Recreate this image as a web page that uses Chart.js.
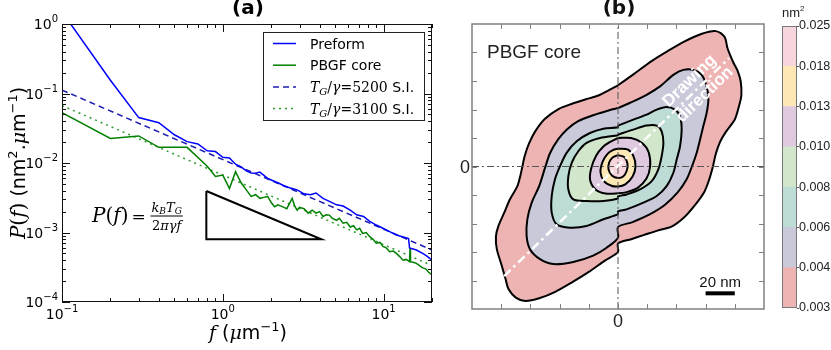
<!DOCTYPE html>
<html>
<head>
<meta charset="utf-8">
<script src="https://cdn.jsdelivr.net/npm/chart.js@4.4.0/dist/chart.umd.min.js"></script>
<style>
  body { margin: 0; background: #fff; width: 831px; height: 350px; position: relative; overflow: hidden; }
  canvas { position: absolute; top: 0; }
  #psd { left: 0; }
  #map { left: 440px; }
  #cbar { left: 775px; }
</style>
</head>
<body>
<canvas id="psd" width="440" height="350"></canvas>
<canvas id="map" width="335" height="350"></canvas>
<canvas id="cbar" width="56" height="350"></canvas>
<script>
// ---- (a) power spectral density ----
const preformFreq = [0.1, 0.2, 0.3, 0.4, 0.5, 0.6, 0.7, 0.8, 0.9, 1.0, 1.1, 1.2, 1.3, 1.4, 1.5, 1.6, 1.7, 1.9, 2.0,
  2.2, 2.4, 2.6, 2.9, 3.2, 3.5, 3.8, 4.2, 4.6, 5.1, 5.6, 6.2, 6.8, 7.5, 8.2, 9.0, 9.9, 10.9, 12.0, 13.1, 14.3,
  14.5, 16.0, 17.5, 18.5, 20.0];
const preformPsd = [1.5, 0.155, 0.045, 0.038, 0.0255, 0.0203, 0.0188, 0.015, 0.0146, 0.0121, 0.0118, 0.0096, 0.0088,
  0.0077, 0.0072, 0.0071, 0.0074, 0.0060, 0.0057, 0.0052, 0.0047, 0.0044, 0.0041, 0.0036, 0.0035, 0.0037, 0.0031,
  0.0028, 0.0025, 0.0024, 0.0021, 0.0018, 0.0017, 0.00145, 0.00128, 0.00115, 0.00103, 0.00092, 0.00087, 0.00082,
  0.00060, 0.00056, 0.00050, 0.00046, 0.00040];
const coreFreq = [0.1, 0.2, 0.3, 0.4, 0.6, 0.8, 0.9, 1.0, 1.1, 1.2, 1.3, 1.4, 1.5, 1.6, 1.7, 1.8, 1.9, 2.0, 2.1, 2.2,
  2.3, 2.4, 2.5, 2.7, 2.8, 2.9, 3.0, 3.2, 3.4, 3.6, 3.8, 4.0, 4.2, 4.4, 4.6, 4.8, 5.1, 5.3, 5.6, 5.9, 6.2, 6.5, 6.8,
  7.1, 7.4, 7.8, 8.2, 8.6, 9.0, 9.5, 9.9, 10.4, 10.9, 11.5, 12.0, 12.6, 13.2, 13.8, 14.5, 14.6, 14.7, 15.4, 16.0,
  16.8, 17.5, 18.3, 19.0, 20.0];
const corePsd = [0.053, 0.0225, 0.0245, 0.0168, 0.0168, 0.0090, 0.0064, 0.0067, 0.0043, 0.0075, 0.0052, 0.0041,
  0.0033, 0.0035, 0.0031, 0.0032, 0.0033, 0.0027, 0.00235, 0.0025, 0.0024, 0.0023, 0.0022, 0.0031, 0.0024, 0.0021,
  0.0023, 0.0022, 0.0019, 0.0021, 0.0019, 0.0020, 0.0017, 0.0018, 0.00178, 0.0016, 0.0015, 0.0016, 0.00136, 0.0014,
  0.0012, 0.00125, 0.00109, 0.00115, 0.00097, 0.00100, 0.00087, 0.00080, 0.00070, 0.00072, 0.00063, 0.00060,
  0.00053, 0.00054, 0.00050, 0.00045, 0.00040, 0.00041, 0.00038, 0.00060, 0.00038, 0.00037, 0.00036, 0.00033,
  0.00031, 0.00030, 0.00027, 0.000245];
const fitFreq = [0.1, 20];
const fitPreformPsd = [0.112, 0.00056];
const fitCorePsd = [0.067, 0.000335];
const fitRatios = ['5200', '3100'];
const triangleFreq = [0.79, 0.79, 4.1, 0.79];
const trianglePsd = [0.00395, 0.0008, 0.0008, 0.00395];

// ---- (b) contour map, nm, outermost level first ----
const contour003 = [[0,57],[11,65],[23,74],[34,81],[46,88],[57,93],[67,95],[73,91],[75,83],[79,73],[82,67],[84,60],
  [84.5,50],[82.5,41],[80,33],[74,24.5],[70,17.5],[67,9],[65,0],[62.5,-9],[59,-18],[52,-28],[45,-36],[37,-42],
  [27,-45],[18,-48],[9,-51],[0,-54],[0,-60],[-9,-66],[-20,-74],[-31,-81],[-43,-88],[-54,-92.5],[-63.5,-94.4],
  [-70,-92],[-75,-86],[-77,-79],[-79.5,-70],[-83,-58],[-83.6,-49],[-82,-42],[-78,-32.6],[-74,-23],[-69,-14],
  [-67,-7],[-65.5,0],[-64,7],[-61,16],[-56.5,25],[-50,33.5],[-40.5,40.5],[-31.5,44],[-22.5,47],[-13,50],
  [-6.5,53.5],[0,57]];
const contour004 = [[0,41],[10.5,45.7],[19.6,50.3],[28.8,56.2],[37.9,64.3],[44.7,67.8],[51.6,67.8],[57.3,64.3],
  [60.7,56.2],[61.9,46.9],[60.7,37.5],[58.4,28.2],[56.2,18.9],[53.9,9.6],[51,1],[47,-9],[41,-18],[32,-27],
  [21,-34],[10,-39],[0,-42.5],[0,-50],[-7.8,-57],[-17,-62.5],[-30.6,-67],[-44.3,-68.5],[-53.4,-65],[-60.3,-58],
  [-62.6,-48.7],[-62.1,-37.1],[-59.1,-25.4],[-54,-13.8],[-50,-1],[-46.5,9.5],[-41,19],[-35,26],[-27,32],
  [-17,36],[-6,39.5],[0,41]];
const contour006 = [[0,28.7],[10.5,32.9],[19.6,36.4],[26.5,39.9],[33.3,41.7],[39,39.9],[42.5,35.2],[43.6,25.9],
  [42.5,14.2],[40.2,4.9],[37.9,-4.4],[33.3,-13.8],[26.5,-20.7],[17.4,-25.4],[5.9,-30.1],[0,-31.5],[0,-33.5],
  [-10,-37],[-21.5,-41.7],[-32.9,-42.9],[-42,-40.6],[-45.4,-32.4],[-45.4,-20.7],[-43.2,-9.1],[-39.7,0.2],
  [-35.2,9.6],[-28.3,17.7],[-19.2,23.5],[-10,26.5],[0,27.5],[0,28.7]];
const contour008 = [[0,22.4],[10.5,25.9],[19.6,28.7],[26.5,28.7],[29.9,24.7],[31.1,16.6],[29.9,7.2],[27.6,-2.1],
  [23.1,-10.3],[15.1,-16.1],[5.9,-19.6],[0,-21],[0,-22.5],[-10,-24.2],[-21.5,-24.2],[-30.6,-23.1],[-34,-16.1],
  [-34,-6.8],[-31.7,2.6],[-27.2,10.7],[-21.5,16.6],[-12.3,20],[0,22],[0,22.4]];
const contour010 = [[0,20],[9,20],[16.5,16.5],[21,10],[22,0],[19.5,-8.5],[13.5,-15],[6,-18],[0,-18.8],
  [-8.5,-19],[-15,-16.5],[-19,-10],[-18.5,-2],[-15,7.5],[-10,14],[-5,17.5],[0,20]];
const contour013 = [[0,12.5],[6.5,12],[10.5,7.5],[12,0],[10,-7],[5,-12.5],[0,-14],[-4.5,-13.5],[-9.5,-10.5],
  [-12,-4],[-10.5,3.5],[-7,9],[-3.5,11.5],[0,12.5]];
const contour018 = [[0,8],[4.5,6.5],[6.5,2],[6,-3],[3.5,-7],[0,-8],[-4,-6.5],[-6.5,-2],[-6,3],[-3.5,6.5],[0,8]];
const zeroLineH = [[-100,0],[100,0]];
const zeroLineV = [[0,-100],[0,100]];
const drawingAxis = [[-78,-77],[76,76]];
const scaleBar = [[60,-89],[80,-89]];

// ---- colorbar ----
const colorbarLevels = ['0.003', '0.004', '0.006', '0.008', '0.010', '0.013', '0.018', '0.025'];
const bandColors = ['#eeb4b4', '#c9c9da', '#bedcd6', '#d1e6cb', '#dfc9df', '#fde8b5', '#f6d6dc'];
const bandSpan = [1, 1, 1, 1, 1, 1, 1];

const SANS = '"DejaVu Sans"';
const SERIF = '"DejaVu Serif"';
const HELV = '"Liberation Sans"';

const zip = (xs, ys) => xs.map((x, i) => ({ x, y: ys[i] }));
const pairs = pts => pts.map(([x, y]) => ({ x, y }));

function drawRuns(ctx, runs, x, y, align) {
  let w = 0;
  for (const r of runs) { ctx.font = r.font; w += ctx.measureText(r.t).width; }
  let cx = align === 'center' ? x - w / 2 : (align === 'right' ? x - w : x);
  ctx.textAlign = 'left';
  ctx.textBaseline = 'alphabetic';
  for (const r of runs) {
    ctx.font = r.font;
    ctx.fillText(r.t, cx, y + (r.dy || 0));
    cx += ctx.measureText(r.t).width;
  }
  return w;
}

function powerLabel(e) {
  return [{ t: '10', font: `14px ${SANS}` }, { t: e < 0 ? '\u2212' + (-e) : String(e), font: `10px ${SANS}`, dy: -7 }];
}

function fitRuns(ratio) {
  return [
    { t: 'T', font: `italic 14px ${SERIF}` },
    { t: 'G', font: `italic 10px ${SERIF}`, dy: 3 },
    { t: '/', font: `14px ${SERIF}` },
    { t: 'γ', font: `italic 14px ${SERIF}` },
    { t: '=', font: `14px ${SERIF}` },
    { t: ratio, font: `14px ${SERIF}` },
    { t: ' S.I.', font: `14px ${SANS}` },
  ];
}

function logMarks(scale) {
  const out = [];
  for (let e = Math.floor(Math.log10(scale.min)); e <= Math.ceil(Math.log10(scale.max)); e++) {
    for (let m = 1; m < 10; m++) {
      const v = m * Math.pow(10, e);
      if (v >= scale.min * 0.999 && v <= scale.max * 1.001) out.push({ v, e, major: m === 1 });
    }
  }
  return out;
}

const psdDecor = {
  id: 'psdDecor',
  afterDraw(chart) {
    const { ctx, chartArea: a, scales: { x, y } } = chart;
    ctx.save();
    ctx.strokeStyle = '#111';
    ctx.lineWidth = 1;
    ctx.strokeRect(a.left + 0.5, a.top + 0.5, a.right - a.left - 1, a.bottom - a.top - 1);

    ctx.beginPath();
    for (const m of logMarks(x)) {
      const p = Math.round(x.getPixelForValue(m.v)) + 0.5, len = m.major ? 8 : 4;
      ctx.moveTo(p, a.bottom); ctx.lineTo(p, a.bottom - len);
      ctx.moveTo(p, a.top); ctx.lineTo(p, a.top + len);
    }
    for (const m of logMarks(y)) {
      const p = Math.round(y.getPixelForValue(m.v)) + 0.5, len = m.major ? 8 : 4;
      ctx.moveTo(a.left, p); ctx.lineTo(a.left + len, p);
      ctx.moveTo(a.right, p); ctx.lineTo(a.right - len, p);
    }
    ctx.stroke();

    ctx.fillStyle = '#000';
    for (const m of logMarks(x)) if (m.major) drawRuns(ctx, powerLabel(m.e), x.getPixelForValue(m.v), a.bottom + 17, 'center');
    for (const m of logMarks(y)) if (m.major) drawRuns(ctx, powerLabel(m.e), a.left - 4, y.getPixelForValue(m.v) + 5, 'right');

    // legend
    const bx = a.right - 169, by = a.top + 8, bw = 161, bh = 88;
    ctx.fillStyle = '#fff';
    ctx.fillRect(bx, by, bw, bh);
    ctx.strokeStyle = '#222';
    ctx.strokeRect(bx + 0.5, by + 0.5, bw, bh);
    chart.data.datasets.slice(0, 4).forEach((ds, i) => {
      const ry = by + 11.5 + i * 21.7;
      ctx.save();
      ctx.strokeStyle = ds.borderColor;
      ctx.lineWidth = ds.borderWidth;
      ctx.setLineDash(ds.borderDash || []);
      ctx.beginPath(); ctx.moveTo(bx + 10, ry); ctx.lineTo(bx + 33, ry); ctx.stroke();
      ctx.restore();
      ctx.fillStyle = '#000';
      const runs = i < 2 ? [{ t: ds.label, font: `14px ${SANS}` }] : fitRuns(fitRatios[i - 2]);
      drawRuns(ctx, runs, bx + 47, ry + 5, 'left');
    });

    // formula next to the slope triangle
    ctx.fillStyle = '#000';
    const fx = a.left + 30, fy = a.top + 198;
    let w = drawRuns(ctx, [
      { t: 'P', font: `italic 20px ${SERIF}` }, { t: '(', font: `20px ${SERIF}` },
      { t: 'f', font: `italic 20px ${SERIF}` }, { t: ')', font: `20px ${SERIF}` },
    ], fx, fy, 'left');
    drawRuns(ctx, [{ t: '=', font: `17px ${SERIF}` }], fx + w + 3, fy, 'left');
    const fracX = fx + w + 23;
    const nw = drawRuns(ctx, [
      { t: 'k', font: `italic 13px ${SERIF}` }, { t: 'B', font: `italic 9px ${SERIF}`, dy: 2 },
      { t: 'T', font: `italic 13px ${SERIF}` }, { t: 'G', font: `italic 9px ${SERIF}`, dy: 2 },
    ], fracX, fy - 10, 'left');
    drawRuns(ctx, [{ t: '2', font: `13px ${SERIF}` }, { t: 'πγf', font: `italic 13px ${SERIF}` }], fracX + nw / 2, fy + 8, 'center');
    ctx.fillRect(fracX - 1, fy - 6.5, nw + 2, 1);

    // titles
    drawRuns(ctx, [{ t: '(a)', font: `bold 20px ${SANS}` }], (a.left + a.right) / 2 + 1, 14, 'center');
    drawRuns(ctx, [
      { t: 'f', font: `italic 19px ${SERIF}` }, { t: ' (', font: `19px ${SANS}` },
      { t: 'μ', font: `italic 19px ${SERIF}` }, { t: 'm', font: `19px ${SANS}` },
      { t: '\u22121', font: `13px ${SANS}`, dy: -8 }, { t: ')', font: `19px ${SANS}` },
    ], (a.left + a.right) / 2 + 1, 339, 'center');
    ctx.save();
    ctx.translate(25, (a.top + a.bottom) / 2);
    ctx.rotate(-Math.PI / 2);
    drawRuns(ctx, [
      { t: 'P', font: `italic 20px ${SERIF}` }, { t: '(', font: `20px ${SERIF}` },
      { t: 'f', font: `italic 20px ${SERIF}` }, { t: ')', font: `20px ${SERIF}` },
      { t: ' (nm', font: `19px ${SANS}` }, { t: '2', font: `13px ${SANS}`, dy: -8 },
      { t: '.', font: `19px ${SANS}` }, { t: 'μ', font: `italic 19px ${SERIF}` }, { t: 'm', font: `19px ${SANS}` },
      { t: '\u22121', font: `13px ${SANS}`, dy: -8 }, { t: ')', font: `19px ${SANS}` },
    ], 0, 0, 'center');
    ctx.restore();
    ctx.restore();
  }
};

new Chart(document.getElementById('psd'), {
  type: 'line',
  data: {
    datasets: [
      { label: 'Preform', data: zip(preformFreq, preformPsd), borderColor: '#0000ff', borderWidth: 1.5 },
      { label: 'PBGF core', data: zip(coreFreq, corePsd), borderColor: '#008000', borderWidth: 1.5 },
      { label: 'fit 5200', data: zip(fitFreq, fitPreformPsd), borderColor: '#1c1cb0', borderWidth: 1.5, borderDash: [6, 4] },
      { label: 'fit 3100', data: zip(fitFreq, fitCorePsd), borderColor: '#2f9a2f', borderWidth: 1.5, borderDash: [2, 4] },
      { label: 'slope', data: zip(triangleFreq, trianglePsd), borderColor: '#000', borderWidth: 2 },
    ]
  },
  options: {
    responsive: false, animation: false, devicePixelRatio: 1,
    layout: { padding: { left: 0, right: 8, top: 24, bottom: 0 } },
    plugins: { legend: { display: false }, tooltip: { enabled: false } },
    elements: { point: { radius: 0 }, line: { tension: 0, fill: false } },
    scales: {
      x: { type: 'logarithmic', min: 0.1, max: 20, grid: { display: false }, border: { display: false },
           ticks: { display: false }, afterFit: s => { s.height = 48; } },
      y: { type: 'logarithmic', min: 1e-4, max: 1, grid: { display: false }, border: { display: false },
           ticks: { display: false }, afterFit: s => { s.width = 62; } },
    }
  },
  plugins: [psdDecor]
});

const mapDecor = {
  id: 'mapDecor',
  afterDraw(chart) {
    const { ctx, chartArea: a, scales: { x, y } } = chart;
    ctx.save();
    ctx.strokeStyle = '#808080';
    ctx.lineWidth = 1.5;
    ctx.strokeRect(a.left, a.top, a.right - a.left, a.bottom - a.top);
    ctx.lineWidth = 1;
    ctx.beginPath();
    for (const t of x.ticks) {
      if (t.value <= x.min || t.value >= x.max) continue;
      const p = Math.round(x.getPixelForValue(t.value)) + 0.5;
      ctx.moveTo(p, a.bottom); ctx.lineTo(p, a.bottom - 5);
      ctx.moveTo(p, a.top); ctx.lineTo(p, a.top + 5);
    }
    for (const t of y.ticks) {
      if (t.value <= y.min || t.value >= y.max) continue;
      const p = Math.round(y.getPixelForValue(t.value)) + 0.5;
      ctx.moveTo(a.left, p); ctx.lineTo(a.left + 5, p);
      ctx.moveTo(a.right, p); ctx.lineTo(a.right - 5, p);
    }
    ctx.stroke();

    ctx.fillStyle = '#222';
    ctx.font = `18px ${HELV}`;
    ctx.textAlign = 'center';
    ctx.fillText('0', x.getPixelForValue(0), a.bottom + 18);
    ctx.textAlign = 'right';
    ctx.fillText('0', a.left - 2, y.getPixelForValue(0) + 6.5);
    ctx.textAlign = 'left';
    ctx.font = `19px ${HELV}`;
    ctx.fillText('PBGF core', a.left + 15, a.top + 34);

    // drawing direction label, rotated along the white axis
    const x0 = x.getPixelForValue(drawingAxis[0][0]), y0 = y.getPixelForValue(drawingAxis[0][1]);
    const x1 = x.getPixelForValue(drawingAxis[1][0]), y1 = y.getPixelForValue(drawingAxis[1][1]);
    const ang = Math.atan2(y1 - y0, x1 - x0);
    ctx.fillStyle = '#fff';
    ctx.font = `bold 17px ${HELV}`;
    ctx.textAlign = 'center';
    ctx.textBaseline = 'middle';
    [['Drawing', 49, 60], ['direction', 59.5, 50.5]].forEach(([txt, vx, vy]) => {
      ctx.save();
      ctx.translate(x.getPixelForValue(vx), y.getPixelForValue(vy));
      ctx.rotate(ang);
      ctx.fillText(txt, 0, 0);
      ctx.restore();
    });

    ctx.fillStyle = '#111';
    ctx.textBaseline = 'alphabetic';
    ctx.font = `15px ${HELV}`;
    ctx.fillText('20 nm', x.getPixelForValue((scaleBar[0][0] + scaleBar[1][0]) / 2), y.getPixelForValue(scaleBar[0][1]) - 6);

    drawRuns(ctx, [{ t: '(b)', font: `bold 20px ${SANS}` }], (a.left + a.right) / 2 + 1, 14, 'center');
    ctx.restore();
  }
};

const contourLevels = [contour003, contour004, contour006, contour008, contour010, contour013, contour018];

new Chart(document.getElementById('map'), {
  type: 'scatter',
  data: {
    datasets: [
      ...contourLevels.map((pts, i) => ({
        data: pairs(pts), showLine: true, fill: 'shape', backgroundColor: bandColors[i],
        borderColor: '#000', borderWidth: 2, tension: 0.3, order: 20 - i
      })),
      { data: pairs(zeroLineH), showLine: true, borderColor: '#555', borderWidth: 1, borderDash: [7, 3, 2, 3], order: 2 },
      { data: pairs(zeroLineV), showLine: true, borderColor: '#555', borderWidth: 1, borderDash: [7, 3, 2, 3], order: 2 },
      { data: pairs(drawingAxis), showLine: true, borderColor: '#fff', borderWidth: 2.5, borderDash: [9, 4, 2.5, 4], order: 1 },
      { data: pairs(scaleBar), showLine: true, borderColor: '#000', borderWidth: 4, borderCapStyle: 'butt', order: 0 },
    ]
  },
  options: {
    responsive: false, animation: false, devicePixelRatio: 1,
    layout: { padding: { left: 0, right: 11, top: 24, bottom: 0 } },
    plugins: { legend: { display: false }, tooltip: { enabled: false } },
    elements: { point: { radius: 0 } },
    scales: {
      x: { type: 'linear', min: -100, max: 100, grid: { display: false }, border: { display: false },
           ticks: { display: false, stepSize: 20 }, afterFit: s => { s.height = 41; } },
      y: { type: 'linear', min: -100, max: 100, grid: { display: false }, border: { display: false },
           ticks: { display: false, stepSize: 20 }, afterFit: s => { s.width = 32; } },
    }
  },
  plugins: [mapDecor]
});

const cbarDecor = {
  id: 'cbarDecor',
  afterDraw(chart) {
    const { ctx, chartArea: a } = chart;
    ctx.save();
    ctx.strokeStyle = '#777';
    ctx.lineWidth = 1;
    ctx.strokeRect(a.left + 0.5, a.top + 0.5, a.right - a.left - 1, a.bottom - a.top - 1);
    ctx.fillStyle = '#222';
    drawRuns(ctx, [{ t: 'nm', font: `13px ${HELV}` }, { t: '2', font: `8px ${HELV}`, dy: -6 }], a.left, 17, 'left');
    ctx.restore();
  }
};

new Chart(document.getElementById('cbar'), {
  type: 'bar',
  data: {
    labels: [''],
    datasets: bandColors.map((c, i) => ({
      data: [bandSpan[i]], backgroundColor: c, borderWidth: 0, barPercentage: 1, categoryPercentage: 1
    }))
  },
  options: {
    responsive: false, animation: false, devicePixelRatio: 1,
    layout: { padding: { left: 7, right: 0, top: 26, bottom: 42 } },
    plugins: { legend: { display: false }, tooltip: { enabled: false } },
    scales: {
      x: { stacked: true, display: false },
      y: {
        stacked: true, min: 0, max: 7, position: 'right',
        grid: { display: true, drawOnChartArea: false, tickLength: 2, color: '#555' },
        border: { display: false },
        ticks: { stepSize: 1, autoSkip: false, padding: 0, color: '#222', font: { family: 'Liberation Sans', size: 12.5 },
                 callback: v => colorbarLevels[v] ?? '' },
        afterFit: s => { s.width = 34; }
      }
    }
  },
  plugins: [cbarDecor]
});
</script>
</body>
</html>
